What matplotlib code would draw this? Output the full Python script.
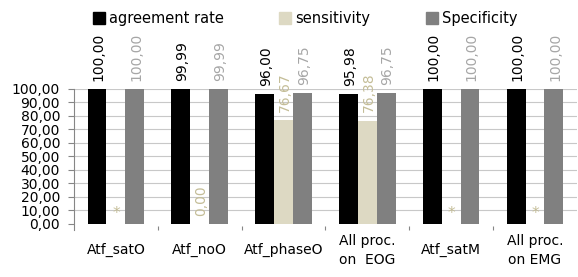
import numpy as np
import matplotlib.pyplot as plt
from matplotlib.lines import Line2D
from matplotlib.ticker import FuncFormatter
from matplotlib.transforms import blended_transform_factory

# data
categories = ["Atf_satO", "Atf_noO", "Atf_phaseO", "All proc.\non  EOG", "Atf_satM", "All proc.\non EMG"]
agreement = [100.00, 99.99, 96.00, 95.98, 100.00, 100.00]
sensitivity = [np.nan, 0.00, 76.67, 76.38, np.nan, np.nan]   # nan -> shown as "*"
specificity = [100.00, 99.99, 96.75, 96.75, 100.00, 100.00]
series_names = ["agreement rate", "sensitivity", "Specificity"]

bar_colors = ["#000000", "#DDD9C3", "#808080"]
label_colors = ["#000000", "#C4BD97", "#A6A6A6"]


def fmt(v):
    return f"{v:.2f}".replace(".", ",")


fig = plt.figure(figsize=(5.78, 2.77), dpi=100)
ax = fig.add_axes([0.128, 0.170, 0.870, 0.509])

x = np.arange(len(categories))
w = 0.225
series = [agreement, sensitivity, specificity]
for i, vals in enumerate(series):
    pos = x + (i - 1) * w
    v = np.array(vals, dtype=float)
    ax.bar(pos, np.nan_to_num(v), width=w, color=bar_colors[i], zorder=3)
    for p, val in zip(pos, v):
        if np.isnan(val):
            # missing value marked with an asterisk
            ax.annotate("*", (p, 0), xytext=(0, 2), textcoords="offset points",
                        ha="center", va="bottom", color=label_colors[i], fontsize=11)
        else:
            ax.annotate(fmt(val), (p, val), xytext=(1, 6), textcoords="offset points",
                        ha="center", va="bottom", rotation=90, color=label_colors[i],
                        fontsize=10)

ax.set_xlim(-0.5, len(categories) - 0.5)
ax.set_ylim(-4.4, 100)
ax.set_yticks(np.arange(0, 101, 10))
ax.yaxis.set_major_formatter(FuncFormatter(lambda v, _: fmt(v)))
ax.tick_params(axis="y", labelsize=10, length=4, color="#868686", pad=6)
for yv in range(10, 101, 10):
    ax.axhline(yv, color="#C8C8C8", lw=0.8, zorder=1)

# category boundary ticks
ax.set_xticks(np.arange(0.5, len(categories) - 0.5, 1))
ax.set_xticklabels([])
ax.tick_params(axis="x", direction="in", length=3, color="#868686")
trans = blended_transform_factory(ax.transData, ax.transAxes)
for xi, lab in zip(x, categories):
    ax.text(xi, -0.145, lab, transform=trans, ha="center", va="center",
            fontsize=10, linespacing=1.4)

for s in ["top", "right", "bottom"]:
    ax.spines[s].set_visible(False)
ax.spines["left"].set_color("#868686")

handles = [Line2D([], [], marker="s", ls="", color=c, markersize=8) for c in bar_colors]
fig.legend(handles, series_names, loc="center", bbox_to_anchor=(306 / 578, 1 - 19 / 277),
           ncol=3, frameon=False, fontsize=10.5, handlelength=0.6, handletextpad=0.4,
           columnspacing=3.9)

fig.savefig("out.png", dpi=100)
